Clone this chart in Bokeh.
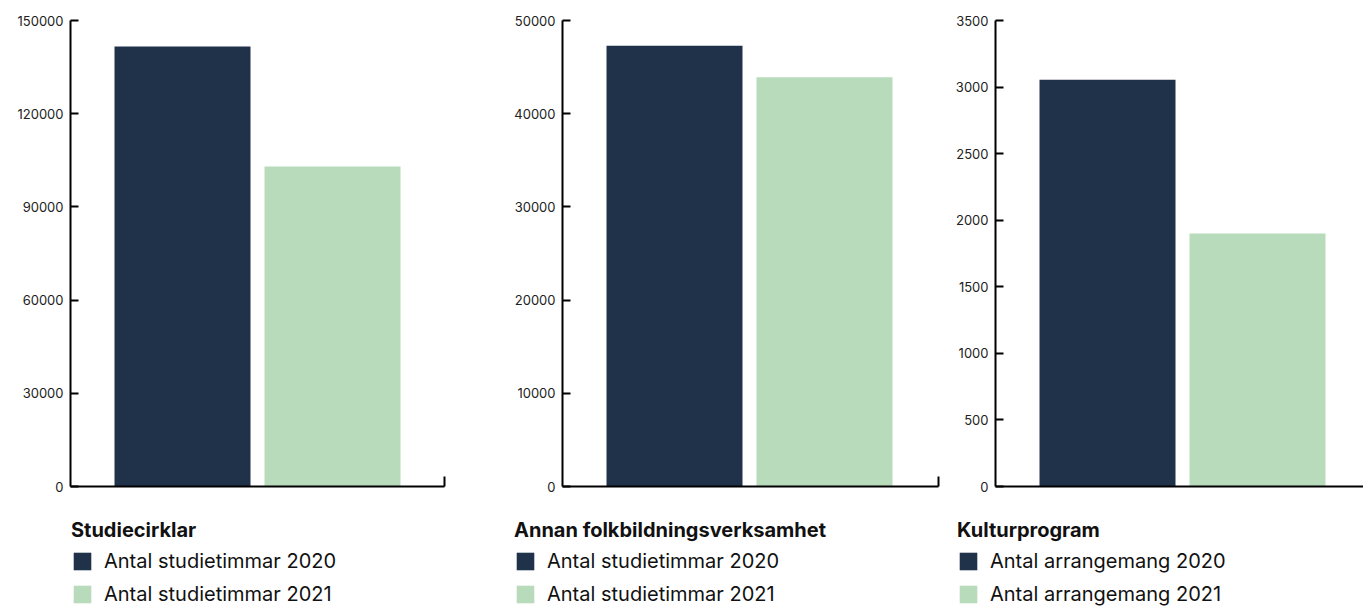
from bokeh.plotting import figure
from bokeh.models import (Range1d, FixedTicker, Legend, LegendItem,
                          NumeralTickFormatter, CustomJSTickFormatter)
from bokeh.layouts import row
from bokeh.embed import file_html
from bokeh.resources import INLINE

# ---- data ----
titles = ["Studiecirklar", "Annan folkbildningsverksamhet", "Kulturprogram"]
labels_1 = ["Antal studietimmar 2020", "Antal studietimmar 2021"]
labels_2 = ["Antal studietimmar 2020", "Antal studietimmar 2021"]
labels_3 = ["Antal arrangemang 2020", "Antal arrangemang 2021"]
values_1 = [141600, 103000]
values_2 = [47300, 43900]
values_3 = [3055, 1900]
ymax = [150000, 50000, 3500]
yticks_1 = [0, 30000, 60000, 90000, 120000, 150000]
yticks_2 = [0, 10000, 20000, 30000, 40000, 50000]
yticks_3 = [0, 500, 1000, 1500, 2000, 2500, 3000, 3500]

colors = ["#20324a", "#b7dbbb"]
FONT = "Inter"
PITCH = 150.0      # px between bar centres
BAR_W = 136.0      # bar width in px
FIRST = 112.0      # px from y axis to first bar centre
CHART_H = 466.0    # px from value 0 to top tick
TOP_PAD = 20.0     # px above the top tick
FRAME_H = 606      # frame height (whole figure)


def panel(title, labels, values, top, ticks, fig_w, axis_px, plot_w, end_tick, leg_x):
    ax = 1 - FIRST / PITCH                 # data x of the y axis
    x0 = ax - axis_px / PITCH
    x1 = x0 + fig_w / PITCH
    xe = ax + plot_w / PITCH               # data x of the x axis end
    y0 = -top * (FRAME_H - CHART_H - TOP_PAD) / CHART_H
    y1 = top + top * TOP_PAD / CHART_H
    p = figure(frame_width=fig_w, frame_height=FRAME_H,
               x_range=Range1d(x0, x1), y_range=Range1d(y0, y1),
               output_backend="svg", toolbar_location=None,
               min_border_left=0, min_border_right=0,
               min_border_top=0, min_border_bottom=0)
    p.outline_line_color = None
    p.grid.visible = False
    p.background_fill_color = "white"

    items = []
    for i, (lab, v) in enumerate(zip(labels, values)):
        r = p.vbar(x=[i + 1], top=[v], width=BAR_W / PITCH, bottom=0,
                   fill_color=colors[i], line_color=None)
        items.append(LegendItem(label=lab, renderers=[r]))

    ya = p.yaxis[0]
    ya.fixed_location = ax
    ya.ticker = FixedTicker(ticks=ticks)
    ya.formatter = NumeralTickFormatter(format="0")
    ya.bounds = (0, top)
    ya.major_tick_in = 8
    ya.major_tick_out = 0
    ya.minor_tick_line_color = None
    ya.axis_line_width = 2
    ya.major_tick_line_width = 2
    ya.axis_line_color = "black"
    ya.major_tick_line_color = "black"
    ya.major_label_text_font = FONT
    ya.major_label_text_font_size = "13px"
    ya.major_label_text_color = "#222222"
    ya.major_label_standoff = 7

    xa = p.xaxis[0]
    xa.fixed_location = 0
    xa.bounds = (ax, xe)
    xa.ticker = FixedTicker(ticks=[xe] if end_tick else [])
    xa.formatter = CustomJSTickFormatter(code="return ''")
    xa.major_tick_in = 10
    xa.major_tick_out = 0
    xa.minor_tick_line_color = None
    xa.axis_line_width = 2
    xa.major_tick_line_width = 2
    xa.axis_line_color = "black"
    xa.major_tick_line_color = "black"
    xa.major_label_standoff = 0

    leg = Legend(items=items, title=title, location=(leg_x, 0),
                 orientation="vertical")
    leg.title_text_font = FONT
    leg.title_text_font_style = "bold"
    leg.title_text_font_size = "20px"
    leg.title_text_color = "#111111"
    leg.title_standoff = 7
    leg.label_text_font = FONT
    leg.label_text_font_size = "20px"
    leg.label_text_color = "#111111"
    leg.glyph_width = 22
    leg.glyph_height = 22
    leg.label_height = 22
    leg.label_standoff = 11
    leg.spacing = 9
    leg.padding = 0
    leg.margin = 0
    leg.border_line_color = None
    leg.background_fill_alpha = 0
    p.add_layout(leg, "center")
    return p


p1 = panel(titles[0], labels_1, values_1, ymax[0], yticks_1, 507, 70, 374, True, 71)
p2 = panel(titles[1], labels_2, values_2, ymax[1], yticks_2, 443, 55, 376, True, 7)
p3 = panel(titles[2], labels_3, values_3, ymax[2], yticks_3, 413, 45, 420, False, 7)

layout = row(p1, p2, p3)
open("out.html", "w").write(file_html(layout, INLINE))
